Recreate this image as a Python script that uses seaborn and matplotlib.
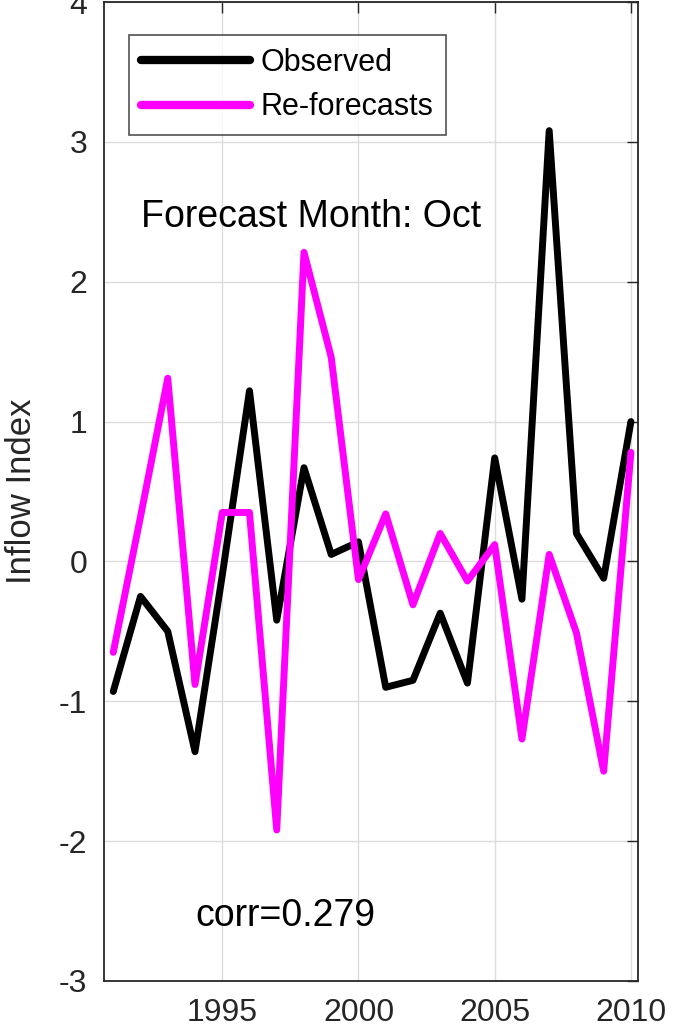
import numpy as np
import pandas as pd
import matplotlib
matplotlib.use("Agg")
import matplotlib.pyplot as plt
import seaborn as sns

# data
years = list(range(1991, 2011))
observed = [-0.93, -0.25, -0.50, -1.36, -0.10, 1.22, -0.42, 0.67, 0.05, 0.14,
            -0.90, -0.85, -0.37, -0.87, 0.74, -0.27, 3.08, 0.20, -0.12, 1.00]
reforecast = [-0.65, 0.32, 1.31, -0.88, 0.35, 0.35, -1.92, 2.21, 1.46, -0.13,
              0.34, -0.31, 0.20, -0.14, 0.12, -1.27, 0.05, -0.51, -1.50, 0.78]
series_names = ["Observed", "Re-forecasts"]
x_ticks = [1995, 2000, 2005, 2010]
y_ticks = [-3, -2, -1, 0, 1, 2, 3, 4]

df = pd.DataFrame({
    "year": years * 2,
    "value": observed + reforecast,
    "series": [series_names[0]] * len(years) + [series_names[1]] * len(years),
})

sns.set_style("white")
plt.rcParams['font.family'] = ['Liberation Sans', 'DejaVu Sans']
plt.rcParams['axes.unicode_minus'] = False

dark = "#262626"
fig = plt.figure(figsize=(6.78, 10.30), dpi=100)
ax = fig.add_axes([104 / 678, 1 - 981 / 1030, (638 - 104) / 678, (981 - 2) / 1030])

sns.lineplot(data=df, x="year", y="value", hue="series", ax=ax,
             palette={"Observed": "black", "Re-forecasts": "#ff00ff"},
             linewidth=5, legend=True, solid_capstyle="round")

ax.set_xlim(1990.66, 2010.26)
ax.set_ylim(-3, 4)
ax.set_xticks(x_ticks)
ax.set_yticks(y_ticks)
ax.grid(True, color="#dcdcdc", linewidth=1.0)
ax.set_axisbelow(True)
ax.tick_params(direction="in", length=8, width=1, color=dark, labelcolor=dark,
               labelsize=23, top=True, right=True, pad=12)
for sp in ax.spines.values():
    sp.set_color(dark)
    sp.set_linewidth(1.3)
    sp.set_visible(True)

ax.set_xlabel("")
ax.set_ylabel("Inflow Index", fontsize=25, color=dark)
ax.yaxis.set_label_coords(-0.124, 0.5)

ax.text(1992.02, 2.39, "Forecast Month: Oct", fontsize=27, color="black", va="baseline")
ax.text(1994.0, -2.61, "corr=0.279", fontsize=27, color="black", va="baseline")

leg = ax.legend(loc="upper left", fontsize=22, frameon=True, fancybox=False,
                edgecolor=dark, handlelength=3.55, handletextpad=0.35,
                borderpad=0.42, labelspacing=0.48, borderaxespad=0,
                labelcolor="black", bbox_to_anchor=(0.046, 0.9665))
leg.get_frame().set_linewidth(1.2)
for line in leg.get_lines():
    line.set_linewidth(6)

fig.savefig("out.png", dpi=100)
